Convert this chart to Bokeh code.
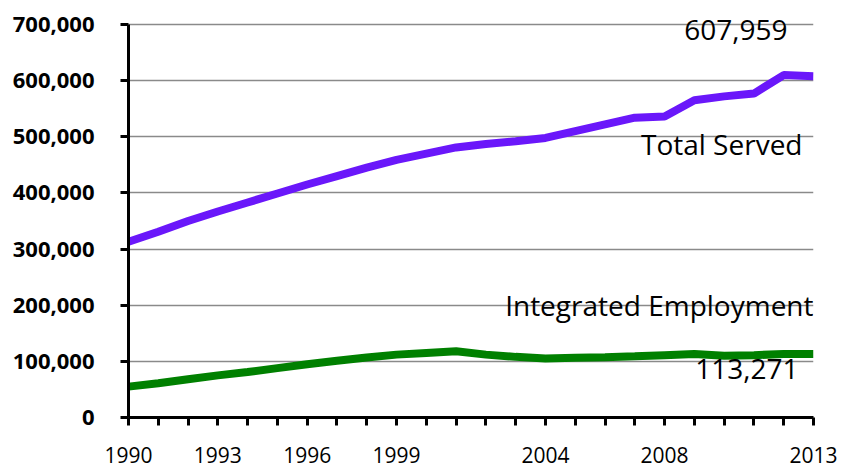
from bokeh.plotting import figure
from bokeh.models import Label, FixedTicker, NumeralTickFormatter, Range1d
from bokeh.embed import file_html
from bokeh.resources import INLINE

years = list(range(1990, 2014))
total_served = [313000, 331000, 350000, 367000, 383000, 399000, 415000, 430000,
                445000, 459000, 470000, 481000, 487000, 492000, 498000, 510000,
                522000, 534000, 536000, 565000, 572000, 577000, 610000, 607959]
integrated = [55000, 61000, 68000, 75000, 81000, 88000, 95000, 101000,
              107000, 112000, 115000, 118000, 112000, 108000, 105000, 106500,
              107500, 109000, 111000, 113000, 110000, 111000, 113000, 113271]
labeled_years = [1990, 1993, 1996, 1999, 2004, 2008, 2013]
y_ticks = [0, 100000, 200000, 300000, 400000, 500000, 600000, 700000]
series_names = ["Total Served", "Integrated Employment"]

y_max = 700000
# extend the frame 24px above the top tick so the value label is not clipped
y_top = y_max * 417 / 393

p = figure(width=840, height=472, output_backend="svg", toolbar_location=None,
           x_range=Range1d(years[0], years[-1]), y_range=Range1d(0, y_top),
           min_border_left=128, min_border_right=27, min_border_top=0,
           min_border_bottom=55)
p.outline_line_color = None
p.background_fill_color = "white"
p.border_fill_color = "white"
p.xgrid.visible = False
p.ygrid.grid_line_color = "#8a8a8a"
p.ygrid.grid_line_width = 1.5

for ax in (p.xaxis[0], p.yaxis[0]):
    ax.axis_line_width = 3
    ax.axis_line_color = "black"
    ax.major_tick_line_width = 3
    ax.major_tick_line_color = "black"
    ax.major_tick_in = 0
    ax.major_tick_out = 8
    ax.minor_tick_line_color = None
    ax.major_label_text_color = "black"
    ax.major_label_text_font = "Open Sans"

p.yaxis.ticker = FixedTicker(ticks=y_ticks)
p.yaxis.bounds = (0, y_max)
p.yaxis.formatter = NumeralTickFormatter(format="0,0")
p.yaxis.major_label_text_font_style = "bold"
p.yaxis.major_label_text_font_size = "22px"
p.yaxis.major_label_standoff = 26

p.xaxis.ticker = FixedTicker(ticks=years)
p.xaxis.major_label_overrides = {y: (str(y) if y in labeled_years else "") for y in years}
p.xaxis.major_label_text_font_size = "21px"
p.xaxis.major_label_standoff = 21

p.line(years, total_served, line_width=8, line_color="#6A17FA")
p.line(years, integrated, line_width=8, line_color="#008000")

def lab(x, y, text):
    p.add_layout(Label(x=x, y=y, text=text, text_align="right",
                       text_baseline="alphabetic", text_font="Open Sans",
                       text_font_size="28px", text_color="black"))

lab(2012.13, 691000, f"{total_served[-1]:,}")
lab(2012.63, 488000, series_names[0])
lab(2013.0, 201000, series_names[1])
lab(2012.5, 87000, f"{integrated[-1]:,}")

open("out.html", "w").write(file_html(p, INLINE))
